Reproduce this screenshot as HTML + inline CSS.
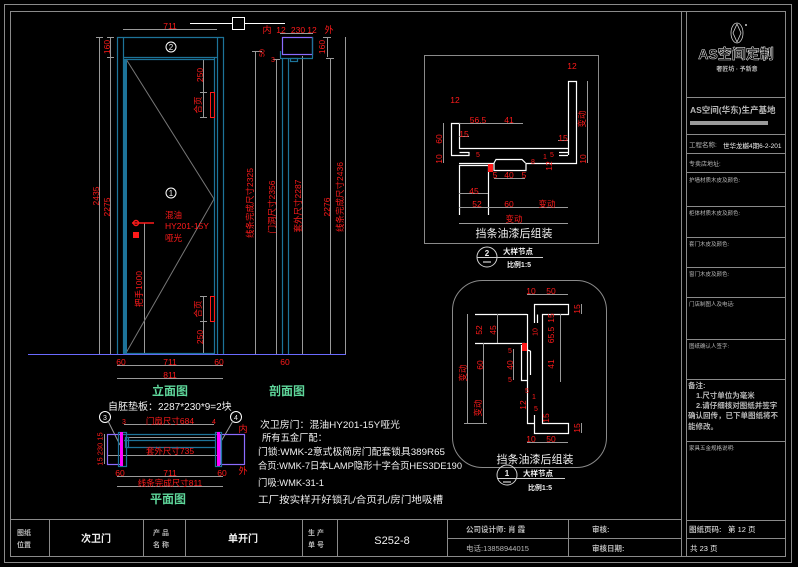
<!DOCTYPE html>
<html><head><meta charset="utf-8">
<style>
html,body{margin:0;padding:0;background:#000;}
svg{display:block;}
text{font-family:"Liberation Sans","Noto Sans CJK SC",sans-serif;}
.r{fill:#ff1a1a;font-size:8.5px;}
.w{fill:#f0f0f0;}
.g{fill:#b8b8b8;}
.gr{fill:#5fd79b;font-weight:bold;font-size:12px;}
</style></head>
<body>
<svg width="798" height="567" viewBox="0 0 798 567" xmlns="http://www.w3.org/2000/svg">
<rect x="0" y="0" width="798" height="567" fill="#000"/>

<!-- outer frames -->
<g fill="none" stroke="#8a8a8a" stroke-width="1">
<rect x="4.5" y="4.5" width="787" height="558"/>
<rect x="10.5" y="11.5" width="775" height="545"/>
<line x1="681.5" y1="11" x2="681.5" y2="557"/>
<line x1="686.5" y1="11" x2="686.5" y2="557"/>
<line x1="686" y1="97.5" x2="786" y2="97.5"/>
<line x1="686" y1="134.5" x2="786" y2="134.5"/>
<line x1="686" y1="153.5" x2="786" y2="153.5"/>
<line x1="686" y1="172.5" x2="786" y2="172.5"/>
<line x1="686" y1="206.5" x2="786" y2="206.5"/>
<line x1="686" y1="237.5" x2="786" y2="237.5"/>
<line x1="686" y1="267.5" x2="786" y2="267.5"/>
<line x1="686" y1="297.5" x2="786" y2="297.5"/>
<line x1="686" y1="339.5" x2="786" y2="339.5"/>
<line x1="686" y1="379.5" x2="786" y2="379.5"/>
<line x1="686" y1="441.5" x2="786" y2="441.5"/>
<line x1="686" y1="520.5" x2="786" y2="520.5"/>
<line x1="686" y1="538.5" x2="786" y2="538.5"/>
<line x1="10" y1="519.5" x2="681" y2="519.5"/>
<line x1="49.5" y1="519" x2="49.5" y2="557"/>
<line x1="143.5" y1="519" x2="143.5" y2="557"/>
<line x1="185.5" y1="519" x2="185.5" y2="557"/>
<line x1="302.5" y1="519" x2="302.5" y2="557"/>
<line x1="337.5" y1="519" x2="337.5" y2="557"/>
<line x1="447.5" y1="519" x2="447.5" y2="557"/>
<line x1="568.5" y1="519" x2="568.5" y2="557"/>
<line x1="447" y1="538.5" x2="681" y2="538.5"/>
</g>

<!-- right column content -->
<g fill="none" stroke="#cfcfcf" stroke-width="0.8">
<ellipse cx="737" cy="33" rx="6" ry="10"/>
<path d="M737 24 L741 33 L737 42 L733 33 Z"/>
</g>
<circle cx="746" cy="25" r="1" fill="#ccc"/>
<text x="736" y="59" text-anchor="middle" style="font-size:14px;font-weight:bold;fill:none;stroke:#d8d8d8;stroke-width:0.6">AS空间定制</text>
<text x="737" y="71" text-anchor="middle" class="g" style="font-size:6px;font-weight:bold">奢匠坊 · 予新意</text>
<text x="690" y="113" class="g" style="font-size:8.5px;font-weight:bold">AS空间(华东)生产基地</text>
<rect x="690" y="121" width="78" height="4" fill="#9a9a9a"/>
<text x="689" y="147" class="g" style="font-size:6.5px">工程名称:</text>
<text x="723" y="148" class="w" style="font-size:6.5px">世华龙樾4期6-2-201</text>
<text x="689" y="166" class="g" style="font-size:6px">专卖店地址:</text>
<text x="689" y="182" class="g" style="font-size:5.5px">护墙材质木皮及颜色:</text>
<text x="689" y="215" class="g" style="font-size:5.5px">柜体材质木皮及颜色:</text>
<text x="689" y="246" class="g" style="font-size:5.5px">套门木皮及颜色:</text>
<text x="689" y="276" class="g" style="font-size:5.5px">窗门木皮及颜色:</text>
<text x="689" y="306" class="g" style="font-size:5.5px">门店制图人及电话:</text>
<text x="689" y="348" class="g" style="font-size:5.5px">图纸确认人签字:</text>
<g class="g" style="font-size:7.5px;font-weight:bold">
<text x="688" y="388">备注:</text>
<text x="696" y="398">1.尺寸单位为毫米</text>
<text x="696" y="408">2.请仔细核对图纸并签字</text>
<text x="688" y="418">确认回传，已下单图纸将不</text>
<text x="688" y="429">能修改。</text>
</g>
<text x="689" y="450" class="g" style="font-size:5.5px">家具五金规格说明:</text>
<text x="689" y="532" class="g" style="font-size:7.5px;font-weight:bold">图纸页码:</text>
<text x="728" y="532" class="w" style="font-size:7.5px">第 12 页</text>
<text x="690" y="551" class="w" style="font-size:7.5px">共 23 页</text>

<!-- bottom bar text -->
<g class="g" style="font-size:7px;font-weight:bold">
<text x="17" y="535">图纸</text><text x="17" y="547">位置</text>
<text x="153" y="535">产  品</text><text x="153" y="547">名  称</text>
<text x="308" y="535">生  产</text><text x="308" y="547">单  号</text>
</g>
<text x="96" y="542" text-anchor="middle" class="w" style="font-size:10px;font-weight:bold">次卫门</text>
<text x="243" y="542" text-anchor="middle" class="w" style="font-size:10px;font-weight:bold">单开门</text>
<text x="392" y="544" text-anchor="middle" class="w" style="font-size:11px">S252-8</text>
<text x="466" y="532" class="g" style="font-size:7.5px;font-weight:bold">公司设计师: 肖 霞</text>
<text x="466" y="551" class="g" style="font-size:7.5px">电话:13858944015</text>
<text x="592" y="532" class="g" style="font-size:7.5px;font-weight:bold">审核:</text>
<text x="592" y="551" class="g" style="font-size:7.5px;font-weight:bold">审核日期:</text>

<!-- ================= ELEVATION ================= -->
<g stroke="#fff" stroke-width="1" fill="none">
<line x1="190" y1="23.5" x2="285" y2="23.5"/>
<rect x="232.5" y="17.5" width="12" height="12" fill="#000"/>
</g>
<line x1="28" y1="354.5" x2="346" y2="354.5" stroke="#6a6aff" stroke-width="1"/>
<g stroke="#9a9a9a" stroke-width="1" fill="none">
<line x1="123" y1="29.5" x2="217" y2="29.5"/>
<line x1="99.5" y1="37" x2="99.5" y2="354"/>
<line x1="110.5" y1="37" x2="110.5" y2="354"/>
<line x1="96" y1="37.5" x2="103" y2="37.5"/>
<line x1="107" y1="37.5" x2="114" y2="37.5"/>
<line x1="107" y1="57.5" x2="114" y2="57.5"/>
<line x1="117" y1="365.5" x2="223" y2="365.5"/>
<line x1="117" y1="378.5" x2="223" y2="378.5"/>
<line x1="203.5" y1="59" x2="203.5" y2="117"/>
<line x1="203.5" y1="296" x2="203.5" y2="353"/>
<line x1="200" y1="92.5" x2="207" y2="92.5"/>
<line x1="200" y1="117.5" x2="207" y2="117.5"/>
<line x1="200" y1="296.5" x2="207" y2="296.5"/>
<line x1="200" y1="321.5" x2="207" y2="321.5"/>
<line x1="144.5" y1="223" x2="144.5" y2="354"/>
<polyline points="126,59 214,199 126,353" stroke="#777"/>
</g>
<g stroke="#1d7399" stroke-width="1.2" fill="none">
<line x1="117.5" y1="37" x2="117.5" y2="354"/>
<line x1="123.5" y1="37" x2="123.5" y2="354"/>
<line x1="214.5" y1="57" x2="214.5" y2="354"/>
<line x1="217.5" y1="37" x2="217.5" y2="354"/>
<line x1="223.5" y1="37" x2="223.5" y2="354"/>
<line x1="117" y1="37.5" x2="224" y2="37.5"/>
<line x1="123" y1="57.5" x2="218" y2="57.5"/>
<line x1="123" y1="59.5" x2="215" y2="59.5"/>
<line x1="123" y1="353.5" x2="215" y2="353.5"/>
</g>
<rect x="123" y="59" width="4" height="294" fill="#1d7399"/>
<rect x="210.5" y="92.5" width="4" height="25" fill="none" stroke="#ff1a1a" stroke-width="1"/>
<rect x="210.5" y="296.5" width="4" height="25" fill="none" stroke="#ff1a1a" stroke-width="1"/>
<g stroke="#ff1a1a" stroke-width="1.5" fill="none">
<circle cx="136" cy="223" r="2.5"/>
<line x1="132" y1="223" x2="154" y2="223"/>
</g>
<rect x="133" y="232" width="6" height="6" fill="#ff1a1a"/>
<g stroke="#fff" stroke-width="1" fill="none">
<circle cx="171" cy="47" r="5"/>
<circle cx="171" cy="193" r="5"/>
</g>
<text x="171" y="50" text-anchor="middle" class="w" style="font-size:8px">2</text>
<text x="171" y="196" text-anchor="middle" class="w" style="font-size:8px">1</text>
<text x="170" y="29" text-anchor="middle" class="r">711</text>
<text x="165" y="218" class="r" style="font-size:8.5px">混油</text>
<text x="165" y="229" class="r" style="font-size:8.5px">HY201-15Y</text>
<text x="165" y="241" class="r" style="font-size:8.5px">哑光</text>
<text transform="translate(139,289) rotate(-90)" text-anchor="middle" dominant-baseline="central" class="r">把手1000</text>
<text transform="translate(198,105) rotate(-90)" text-anchor="middle" dominant-baseline="central" class="r">合页</text>
<text transform="translate(198,309) rotate(-90)" text-anchor="middle" dominant-baseline="central" class="r">合页</text>
<text transform="translate(200,75) rotate(-90)" text-anchor="middle" dominant-baseline="central" class="r">250</text>
<text transform="translate(200,337) rotate(-90)" text-anchor="middle" dominant-baseline="central" class="r">250</text>
<text transform="translate(107,47) rotate(-90)" text-anchor="middle" dominant-baseline="central" class="r">160</text>
<text transform="translate(96,196) rotate(-90)" text-anchor="middle" dominant-baseline="central" class="r">2435</text>
<text transform="translate(107,207) rotate(-90)" text-anchor="middle" dominant-baseline="central" class="r">2275</text>
<text x="121" y="365" text-anchor="middle" class="r">60</text>
<text x="170" y="365" text-anchor="middle" class="r">711</text>
<text x="219" y="365" text-anchor="middle" class="r">60</text>
<text x="170" y="378" text-anchor="middle" class="r">811</text>
<text x="170" y="395" text-anchor="middle" class="gr">立面图</text>

<!-- ================= SECTION ================= -->
<g stroke="#9a9a9a" stroke-width="1" fill="none">
<line x1="280" y1="33.5" x2="313" y2="33.5"/>
<line x1="327.5" y1="37" x2="327.5" y2="57"/>
<line x1="323" y1="37.5" x2="331" y2="37.5"/>
<line x1="255.5" y1="51" x2="255.5" y2="354"/>
<line x1="276.5" y1="59" x2="276.5" y2="354"/>
<line x1="302.5" y1="56" x2="302.5" y2="354"/>
<line x1="330.5" y1="58" x2="330.5" y2="354"/>
<line x1="345.5" y1="37" x2="345.5" y2="354"/>
<line x1="252" y1="51.5" x2="262" y2="51.5"/>
<line x1="273" y1="59.5" x2="280" y2="59.5"/>
<line x1="326" y1="58.5" x2="334" y2="58.5"/>
</g>
<rect x="282.5" y="37.5" width="30" height="17" fill="none" stroke="#8c6cff" stroke-width="1.2"/>
<g stroke="#1d7399" stroke-width="1.2" fill="none">
<line x1="312.5" y1="37" x2="312.5" y2="58"/>
<line x1="280.5" y1="51" x2="280.5" y2="58"/>
<line x1="280" y1="58.5" x2="313" y2="58.5"/>
<rect x="290.5" y="58.5" width="7" height="3"/>
<line x1="282.5" y1="58" x2="282.5" y2="354"/>
<line x1="288.5" y1="58" x2="288.5" y2="354"/>
</g>
<text x="267" y="33" text-anchor="middle" class="r" style="font-size:9px">内</text>
<text x="281" y="33" text-anchor="middle" class="r">12</text>
<text x="298" y="33" text-anchor="middle" class="r">230</text>
<text x="312" y="33" text-anchor="middle" class="r">12</text>
<text x="329" y="33" text-anchor="middle" class="r" style="font-size:9px">外</text>
<text transform="translate(322,47) rotate(-90)" text-anchor="middle" dominant-baseline="central" class="r">160</text>
<text transform="translate(263,53) rotate(-90)" text-anchor="middle" dominant-baseline="central" class="r" style="font-size:7px">50</text>
<text x="273" y="62" text-anchor="middle" class="r" style="font-size:7px">3</text>
<text transform="translate(250,203) rotate(-90)" text-anchor="middle" dominant-baseline="central" class="r">线条完成尺寸2325</text>
<text transform="translate(272,207) rotate(-90)" text-anchor="middle" dominant-baseline="central" class="r">门洞尺寸2356</text>
<text transform="translate(298,206) rotate(-90)" text-anchor="middle" dominant-baseline="central" class="r">套外尺寸2287</text>
<text transform="translate(327,207) rotate(-90)" text-anchor="middle" dominant-baseline="central" class="r">2276</text>
<text transform="translate(340,197) rotate(-90)" text-anchor="middle" dominant-baseline="central" class="r">线条完成尺寸2436</text>
<text x="285" y="365" text-anchor="middle" class="r">60</text>
<text x="287" y="395" text-anchor="middle" class="gr">剖面图</text>

<!-- ================= PLAN ================= -->
<text x="108" y="410" class="w" style="font-size:10px">自胚垫板：2287*230*9=2块</text>
<g stroke="#fff" stroke-width="1" fill="none">
<circle cx="105" cy="417" r="5.5"/>
<circle cx="236" cy="417" r="5.5"/>
</g>
<text x="105" y="420" text-anchor="middle" class="w" style="font-size:7px">3</text>
<text x="236" y="420" text-anchor="middle" class="w" style="font-size:7px">4</text>
<g stroke="#9a9a9a" stroke-width="1" fill="none">
<line x1="108" y1="421" x2="120" y2="445"/>
<line x1="233" y1="421" x2="219" y2="445"/>
<line x1="124" y1="424.5" x2="214" y2="424.5"/>
<line x1="126" y1="437.5" x2="216" y2="437.5"/>
<line x1="107" y1="455.5" x2="220" y2="455.5"/>
<line x1="117" y1="476.5" x2="223" y2="476.5"/>
<line x1="117" y1="486.5" x2="223" y2="486.5"/>
<line x1="104.5" y1="434" x2="104.5" y2="464"/>
</g>
<g stroke="#8c6cff" stroke-width="1.2" fill="none">
<rect x="107.5" y="434.5" width="14" height="30"/>
<rect x="220.5" y="434.5" width="24" height="30"/>
</g>
<g stroke="#1d7399" stroke-width="1.2" fill="none">
<rect x="118.5" y="432.5" width="8" height="34"/>
<rect x="215.5" y="432.5" width="6" height="34"/>
<line x1="122" y1="434.5" x2="218" y2="434.5"/>
<line x1="124" y1="440.5" x2="216" y2="440.5"/>
<rect x="125.5" y="437.5" width="3" height="10"/>
<line x1="126" y1="447.5" x2="215" y2="447.5"/>
</g>
<rect x="120" y="432" width="3" height="34" fill="#ff00ff"/>
<rect x="217" y="432" width="3" height="34" fill="#ff00ff"/>
<text x="124" y="424" text-anchor="middle" class="r" style="font-size:7px">3</text>
<text x="214" y="424" text-anchor="middle" class="r" style="font-size:7px">4</text>
<text x="170" y="424" text-anchor="middle" class="r">门扇尺寸684</text>
<text x="243" y="432" text-anchor="middle" class="r" style="font-size:9px">内</text>
<text x="243" y="474" text-anchor="middle" class="r" style="font-size:9px">外</text>
<text x="170" y="454" text-anchor="middle" class="r">套外尺寸735</text>
<text transform="translate(100,449) rotate(-90)" text-anchor="middle" dominant-baseline="central" class="r" style="font-size:7.5px">15 230 15</text>
<text x="120" y="476" text-anchor="middle" class="r">60</text>
<text x="170" y="476" text-anchor="middle" class="r">711</text>
<text x="222" y="476" text-anchor="middle" class="r">60</text>
<text x="170" y="486" text-anchor="middle" class="r">线条完成尺寸811</text>
<text x="168" y="503" text-anchor="middle" class="gr">平面图</text>

<!-- ================= TEXT BLOCK ================= -->
<g class="w" style="font-size:9.5px">
<text x="260" y="428" textLength="140" lengthAdjust="spacingAndGlyphs">次卫房门：混油HY201-15Y哑光</text>
<text x="262" y="441" textLength="65" lengthAdjust="spacingAndGlyphs">所有五金厂配：</text>
<text x="258" y="455" textLength="187" lengthAdjust="spacingAndGlyphs">门锁:WMK-2意式极简房门配套锁具389R65</text>
<text x="258" y="469" textLength="204" lengthAdjust="spacingAndGlyphs">合页:WMK-7日本LAMP隐形十字合页HES3DE190</text>
<text x="258" y="486" textLength="66" lengthAdjust="spacingAndGlyphs">门吸:WMK-31-1</text>
<text x="258" y="503" textLength="185" lengthAdjust="spacingAndGlyphs">工厂按实样开好锁孔/合页孔/房门地吸槽</text>
</g>

<!-- ================= DETAIL 2 (top right) ================= -->
<rect x="424.5" y="55.5" width="174" height="188" fill="none" stroke="#8a8a8a" stroke-width="1"/>
<g stroke="#fff" stroke-width="1.2" fill="none">
<path d="M568.5 155 L568.5 81.5 L576.5 81.5 L576.5 163.5 L526 163.5 L526 170.5 L494 170.5 L494 163.5 L459 163.5"/>
<path d="M451.5 155.5 L451.5 123.5 L459.5 123.5 L459.5 148.5 L568 148.5"/>
<path d="M451 155.5 L469 155.5 L469 152.5 L459.5 152.5"/>
<path d="M559 155.5 L568 155.5 M559 152.5 L568 152.5"/>
<path d="M494 163 L496 159.5 L522 159.5 L525.5 163"/>
<path d="M459.5 215 L459.5 165.5 L488.5 165.5 L488.5 215"/>
</g>
<rect x="488" y="164" width="5" height="8" fill="#ff1a1a"/>
<g stroke="#9a9a9a" stroke-width="1" fill="none">
<line x1="459" y1="123.5" x2="523" y2="123.5"/>
<line x1="443.5" y1="123" x2="443.5" y2="163"/>
<line x1="587.5" y1="81" x2="587.5" y2="163"/>
<line x1="494" y1="178.5" x2="525" y2="178.5"/>
<line x1="459" y1="193.5" x2="488" y2="193.5"/>
<line x1="459" y1="207.5" x2="568" y2="207.5"/>
<line x1="459" y1="223.5" x2="568" y2="223.5"/>
<line x1="459" y1="136.5" x2="469" y2="136.5"/>
<line x1="558" y1="140.5" x2="568" y2="140.5"/>
</g>
<g class="r" text-anchor="middle">
<text x="572" y="69">12</text>
<text x="455" y="103">12</text>
<text x="478" y="123">56.5</text>
<text x="509" y="123">41</text>
<text x="464" y="137">15</text>
<text x="563" y="141">15</text>
<text x="478" y="157" style="font-size:7px">5</text>
<text x="552" y="157" style="font-size:7px">5</text>
<text x="533" y="164" style="font-size:7px">8</text>
<text x="545" y="159" style="font-size:7px">1</text>
<text x="495" y="178">5</text>
<text x="509" y="178">40</text>
<text x="524" y="178">5</text>
<text x="474" y="194">45</text>
<text x="477" y="207">52</text>
<text x="509" y="207">60</text>
<text x="547" y="207">变动</text>
<text x="514" y="222">变动</text>
</g>
<text transform="translate(439,139) rotate(-90)" text-anchor="middle" dominant-baseline="central" class="r">60</text>
<text transform="translate(439,159) rotate(-90)" text-anchor="middle" dominant-baseline="central" class="r">10</text>
<text transform="translate(582,119) rotate(-90)" text-anchor="middle" dominant-baseline="central" class="r">变动</text>
<text transform="translate(583,159) rotate(-90)" text-anchor="middle" dominant-baseline="central" class="r">10</text>
<text transform="translate(549,166) rotate(-90)" text-anchor="middle" dominant-baseline="central" class="r">12</text>
<text x="514" y="237" text-anchor="middle" class="w" style="font-size:11px">挡条油漆后组装</text>
<g stroke="#cfcfcf" stroke-width="1" fill="none">
<circle cx="487" cy="257" r="10"/>
<line x1="477" y1="257.5" x2="543" y2="257.5"/>
</g>
<text x="487" y="256" text-anchor="middle" class="w" style="font-size:8px;font-weight:bold">2</text>
<line x1="483" y1="262" x2="491" y2="262" stroke="#fff" stroke-width="1"/>
<text x="518" y="254" text-anchor="middle" class="w" style="font-size:7.5px;font-weight:bold">大样节点</text>
<text x="519" y="267" text-anchor="middle" class="w" style="font-size:7px;font-weight:bold">比例1:5</text>

<!-- ================= DETAIL 1 (bottom right) ================= -->
<rect x="452.5" y="280.5" width="154" height="187" rx="30" ry="30" fill="none" stroke="#8a8a8a" stroke-width="1"/>
<g stroke="#fff" stroke-width="1.2" fill="none">
<path d="M534.5 323 L534.5 304.5 L568.5 304.5 L568.5 314.5 L542.5 314.5 L542.5 423.5 L568.5 423.5 L568.5 433.5 L534.5 433.5 L534.5 415"/>
<path d="M537.5 323 L537.5 314.5"/>
<path d="M527.5 314 L527.5 423.5 L534 423.5"/>
<path d="M475 314.5 L527 314.5 M475 343.5 L525 343.5"/>
<path d="M521.5 345 L521.5 380.5 L527 380.5 M530.5 351 L530.5 375 M524 349 L530.5 351"/>
</g>
<rect x="522" y="343" width="5" height="8" fill="#ff1a1a"/>
<g stroke="#9a9a9a" stroke-width="1" fill="none">
<line x1="527" y1="294.5" x2="568" y2="294.5"/>
<line x1="581.5" y1="304" x2="581.5" y2="314"/>
<line x1="560.5" y1="314" x2="560.5" y2="382"/>
<line x1="497.5" y1="314" x2="497.5" y2="343"/>
<line x1="467.5" y1="314" x2="467.5" y2="423"/>
<line x1="483.5" y1="343" x2="483.5" y2="423"/>
<line x1="513.5" y1="349" x2="513.5" y2="380"/>
<line x1="527" y1="442.5" x2="568" y2="442.5"/>
<line x1="581.5" y1="423" x2="581.5" y2="433"/>
<line x1="464" y1="423.5" x2="487" y2="423.5"/>
</g>
<g class="r" text-anchor="middle">
<text x="531" y="294">10</text>
<text x="551" y="294">50</text>
<text x="531" y="442">10</text>
<text x="551" y="442">50</text>
<text x="510" y="353" style="font-size:7px">5</text>
<text x="510" y="382" style="font-size:7px">5</text>
<text x="527" y="393" style="font-size:7px">5</text>
<text x="534" y="399" style="font-size:7px">1</text>
<text x="536" y="411" style="font-size:7px">5</text>
</g>
<text transform="translate(577,309) rotate(-90)" text-anchor="middle" dominant-baseline="central" class="r">15</text>
<text transform="translate(577,428) rotate(-90)" text-anchor="middle" dominant-baseline="central" class="r">15</text>
<text transform="translate(551,318) rotate(-90)" text-anchor="middle" dominant-baseline="central" class="r">15</text>
<text transform="translate(551,335) rotate(-90)" text-anchor="middle" dominant-baseline="central" class="r">65.5</text>
<text transform="translate(551,364) rotate(-90)" text-anchor="middle" dominant-baseline="central" class="r">41</text>
<text transform="translate(536,332) rotate(-90)" text-anchor="middle" dominant-baseline="central" class="r" style="font-size:7px">10</text>
<text transform="translate(479,330) rotate(-90)" text-anchor="middle" dominant-baseline="central" class="r">52</text>
<text transform="translate(493,330) rotate(-90)" text-anchor="middle" dominant-baseline="central" class="r">45</text>
<text transform="translate(463,373) rotate(-90)" text-anchor="middle" dominant-baseline="central" class="r">变动</text>
<text transform="translate(480,365) rotate(-90)" text-anchor="middle" dominant-baseline="central" class="r">60</text>
<text transform="translate(478,408) rotate(-90)" text-anchor="middle" dominant-baseline="central" class="r">变动</text>
<text transform="translate(510,365) rotate(-90)" text-anchor="middle" dominant-baseline="central" class="r">40</text>
<text transform="translate(523,405) rotate(-90)" text-anchor="middle" dominant-baseline="central" class="r">12</text>
<text transform="translate(546,418) rotate(-90)" text-anchor="middle" dominant-baseline="central" class="r">15</text>
<text x="535" y="463" text-anchor="middle" class="w" style="font-size:11px">挡条油漆后组装</text>
<g stroke="#cfcfcf" stroke-width="1" fill="none">
<circle cx="507" cy="475" r="10"/>
<line x1="497" y1="478.5" x2="565" y2="478.5"/>
</g>
<text x="507" y="476" text-anchor="middle" class="w" style="font-size:8px;font-weight:bold">1</text>
<line x1="503" y1="482" x2="511" y2="482" stroke="#fff" stroke-width="1"/>
<text x="538" y="476" text-anchor="middle" class="w" style="font-size:7.5px;font-weight:bold">大样节点</text>
<text x="540" y="490" text-anchor="middle" class="w" style="font-size:7px;font-weight:bold">比例1:5</text>
</svg>
</body></html>
